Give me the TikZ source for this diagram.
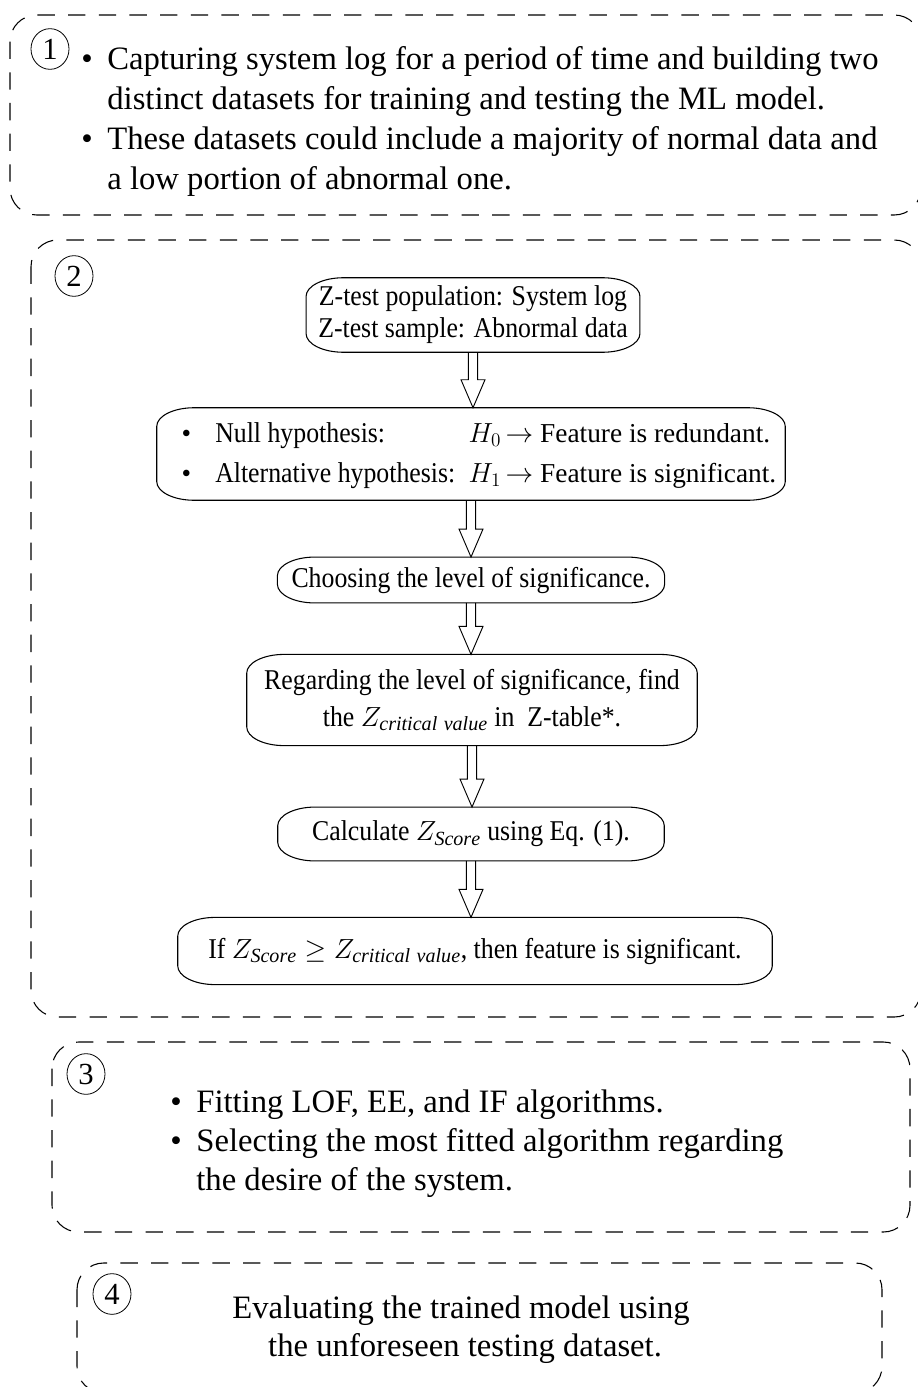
\documentclass[tikz,border=0pt]{standalone}
\usepackage{fontspec}
\setmainfont{Liberation Serif}
\newfontfamily\condfont[FakeStretch=0.9]{Liberation Serif}
\usetikzlibrary{calc,shapes.geometric}
\newcommand{\hollowarrow}[2]{%
  \draw[arrowline] let \p1=(#1.south), \p2=(#2.north) in
    (\x1-3.5pt,\y1) -- (\x1-3.5pt,\y2+21pt) -- (\x1-9pt,\y2+21pt) -- (\x1,\y2)
    -- (\x1+9pt,\y2+21pt) -- (\x1+3.5pt,\y2+21pt) -- (\x1+3.5pt,\y1);}
\newcommand{\flowoutline}[1]{%
  \draw[flowline] ($(#1.north west)+(0,-14pt)$) .. controls ($(#1.north west)+(0,-6.3pt)$) and ($(#1.north west)+(12.5pt,0)$) .. ($(#1.north west)+(28pt,0)$)
   -- ($(#1.north east)+(-28pt,0)$) .. controls ($(#1.north east)+(-12.5pt,0)$) and ($(#1.north east)+(0,-6.3pt)$) .. ($(#1.north east)+(0,-14pt)$)
   -- ($(#1.south east)+(0,14pt)$) .. controls ($(#1.south east)+(0,6.3pt)$) and ($(#1.south east)+(-12.5pt,0)$) .. ($(#1.south east)+(-28pt,0)$)
   -- ($(#1.south west)+(28pt,0)$) .. controls ($(#1.south west)+(12.5pt,0)$) and ($(#1.south west)+(0,6.3pt)$) .. ($(#1.south west)+(0,14pt)$) -- cycle;}
\begin{document}
\begin{tikzpicture}[x=0.75pt,y=-0.75pt,
  dashbox/.style={draw, line width=0.8pt, dash pattern=on 13pt off 10pt, rounded corners=20pt},
  numcircle/.style={draw, ellipse, line width=0.6pt, inner sep=0pt, minimum width=28.5pt, minimum height=30.5pt, font=\fontsize{23}{23}\selectfont},
  flowbox/.style={inner sep=0pt, align=center, font=\condfont\fontsize{21.5}{24}\selectfont},
  flowline/.style={line width=0.8pt},
  arrowline/.style={line width=0.7pt},
  bigtext/.style={inner sep=0pt, font=\fontsize{24.5}{30}\selectfont}
]
\useasboundingbox (0,0) rectangle (917,1387);

% outer dashed frames
\draw[dashbox] (10,15) rectangle (921,215);
\draw[dashbox] (31,240) rectangle (921,1017);
\draw[dashbox] (52,1042) rectangle (910,1232);
\draw[dashbox] (77,1263) rectangle (882,1393);

% step numbers
\node[numcircle] (n1) at (50,49) {1};
\node[numcircle] (n2) at (74,276) {2};
\node[numcircle] (n3) at (86,1074) {3};
\node[numcircle] (n4) at (112,1294) {4};

% box 1 text
\node[bigtext, anchor=base west] (t1) at (81,70) {\begin{tabular}[t]{@{}l@{\hspace{11pt}}l@{}}
\textbullet & Capturing system log for a period of time and building two\\
 & distinct datasets for training and testing the ML model.\\
\textbullet & These datasets could include a majority of normal data and\\
 & a low portion of abnormal one.
\end{tabular}};

% flowchart in box 2
\node[flowbox, minimum width=250pt, minimum height=55.5pt] (A) at (473,315)
  {Z-test population: System log\\Z-test sample: Abnormal data};
\node[flowbox, minimum width=471pt, minimum height=69pt, font=\fontsize{20.5}{30}\selectfont] (B) at (471,454)
  {\hspace*{12pt}\begin{tabular}{@{}l@{\hspace{18pt}}l@{\hspace{10pt}}l@{}}
  \textbullet & {\condfont\fontsize{21.5}{30}\selectfont Null hypothesis:} & $H_0\,{\rightarrow}$ Feature is redundant.\\
  \textbullet & {\condfont\fontsize{21.5}{30}\selectfont Alternative hypothesis:} & $H_1\,{\rightarrow}$ Feature is significant.
  \end{tabular}};
\node[flowbox, minimum width=290pt, minimum height=34pt] (C) at (471,580)
  {Choosing the level of significance.};
\node[flowbox, minimum width=337.5pt, minimum height=68pt, font=\condfont\fontsize{21.5}{28}\selectfont] (D) at (472,700)
  {Regarding the level of significance, find\\the $Z_{\mathit{critical\ value}}$ in\ \ Z-table*.};
\node[flowbox, minimum width=289.5pt, minimum height=40pt] (E) at (471,834)
  {Calculate $Z_{\mathit{Score}}$ using Eq. (1).};
\node[flowbox, minimum width=445.5pt, minimum height=50pt] (F) at (475,951)
  {If $Z_{\mathit{Score}} \geq Z_{\mathit{critical\ value}}$, then feature is significant.};

\flowoutline{A}
\flowoutline{B}
\flowoutline{C}
\flowoutline{D}
\flowoutline{E}
\flowoutline{F}

\hollowarrow{A}{B}
\hollowarrow{B}{C}
\hollowarrow{C}{D}
\hollowarrow{D}{E}
\hollowarrow{E}{F}

% box 3 text
\node[bigtext, anchor=base west, font=\fontsize{24.5}{29.5}\selectfont] (t3) at (170,1112) {\begin{tabular}[t]{@{}l@{\hspace{11pt}}l@{}}
\textbullet & Fitting LOF, EE, and IF algorithms.\\
\textbullet & Selecting the most fitted algorithm regarding\\
 & the desire of the system.
\end{tabular}};

% box 4 text
\node[bigtext, anchor=base, font=\fontsize{24.5}{28.5}\selectfont] (t4) at (461,1318) {\begin{tabular}[t]{@{}c@{}}
Evaluating the trained model using\\
\ the unforeseen testing dataset.
\end{tabular}};
\end{tikzpicture}
\end{document}
